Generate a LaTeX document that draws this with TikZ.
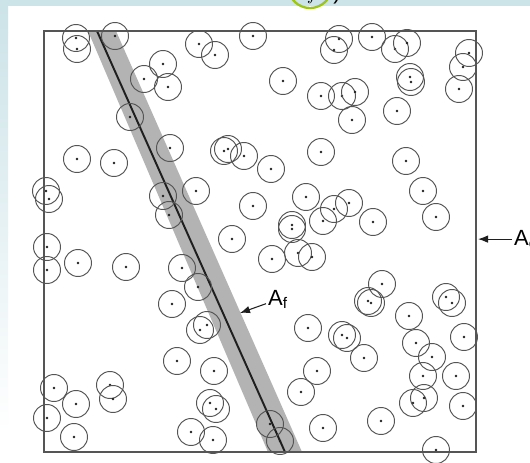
\documentclass[tikz,border=0pt]{standalone}
\usepackage{amsmath}
\usepackage{fontspec}
\setmainfont{Liberation Sans}
\usetikzlibrary{arrows.meta,positioning}
\definecolor{PanelBlue}{HTML}{CCE3E8}
\definecolor{RingGreen}{HTML}{9CC41A}
\definecolor{BandGray}{HTML}{B3B3B3}
\definecolor{InkDark}{HTML}{1F1F1F}
\definecolor{InkSoft}{HTML}{555555}
\tikzset{
  grain/.style={circle, draw=InkSoft, line width=0.55pt, minimum size=5.4mm, inner sep=0pt},
  graindot/.style={fill=InkDark},
  frame/.style={line width=0.6pt, draw=InkSoft},
  fault/.style={line width=1.1pt, draw=InkDark},
  zone/.style={fill=BandGray},
  ptr/.style={line width=0.6pt, draw=InkDark, -{Latex[length=2mm,width=1.5mm]}},
  alabel/.style={font=\fontsize{12.5}{14}\selectfont, inner sep=1pt, anchor=base west},
}

\begin{document}
\begin{tikzpicture}[x=0.2mm, y=-0.2mm]
\useasboundingbox (0,0) rectangle (530,462);
% page background
\fill[white] (0,0) rectangle (530,462);
\fill[PanelBlue] (0,0) rectangle (530,6);
\shade[top color=PanelBlue, bottom color=white] (0,6) rectangle (8,432);
% cut-off mark at the top
\draw[RingGreen, line width=1.3pt] (310,-14) circle (4.4mm);
\node[anchor=base, font=\fontsize{12.5}{14}\selectfont] (ringf) at (313,-1) {$f$};
\node[anchor=base, font=\fontsize{12.5}{14}\selectfont] (ringp) at (337,-1) {)};
% fault zone and trace
\fill[zone] (88,31) -- (116,31) -- (302,452) -- (268,452) -- cycle;
\draw[fault] (97,31) -- (285,452);
% grains
\foreach \px/\py [count=\i] in {
  76/38, 77/49, 115/36, 199/44, 215/55, 253/36, 339/39, 334/50, 372/37, 395/49,
  407/43, 469/53, 463/67, 144/79, 163/64, 168/87, 283/81, 321/96, 342/96, 355/92,
  352/120, 410/77, 411/82, 397/111, 459/89, 130/117, 170/148, 224/151, 228/149,
  244/156, 271/169, 321/152, 406/161, 77/159, 114/163, 46/191, 49/199, 163/196,
  169/215, 196/191, 253/206, 306/197, 423/191, 436/217, 349/203, 334/209, 323/221,
  373/222, 292/225, 292/229, 232/239, 47/247, 47/270, 78/263, 126/267, 182/268,
  272/259, 298/253, 312/257, 172/304, 198/287, 382/284, 368/301, 371/303,
  446/297, 452/303, 308/328, 342/335, 347/338, 409/316, 200/330, 207/325,
  177/361, 214/371, 317/371, 364/358, 416/343, 432/357, 464/337, 456/376, 423/376,
  54/388, 76/404, 47/418, 74/437, 110/385, 113/399,
  191/432, 210/403, 216/409, 213/440, 270/424, 280/441, 301/392, 323/428, 381/421,
  413/403, 424/398, 463/406, 436/450}{
  \node[grain] (g\i) at (\px,\py) {};
  \fill[graindot] (g\i.center) circle (0.8pt);
}
% sample area
\draw[frame] (44,31) rectangle (476,452);
% labels
\node[alabel] (af) at (266,305) {A$_{\text{f}}$};
\coordinate (afTip) at (240,313);
\draw[ptr] (af) -- (afTip);
\node[alabel] (ac) at (512,245) {A$_{\text{c}}$};
\coordinate (acTip) at (478,238);
\draw[ptr] (ac.west) -- (acTip |- ac.west);
\end{tikzpicture}
\end{document}
